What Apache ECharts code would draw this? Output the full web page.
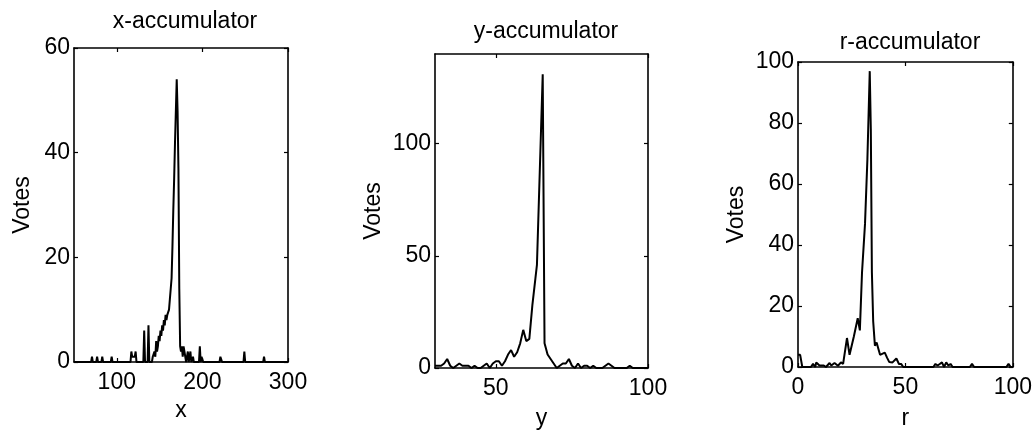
<!DOCTYPE html>
<html>
<head>
<meta charset="utf-8">
<script src="https://cdn.jsdelivr.net/npm/echarts@6/dist/echarts.min.js"></script>
<style>
html,body{margin:0;padding:0;background:#fff;}
#c{width:1035px;height:435px;}
</style>
</head>
<body>
<div id="c"></div>
<script>
// ---- data ----
const xAccX = [50,70,71,72,76,77,78,82,83,84,93,94,95,116,117,118,119,120,121,122,123,131,132,133,136,137,138,141,142,143,144,145,146,147,148,149,150,151,152,153,154,155,156,157,158,159,160,161,162,163,164,165,166,167,168,169,170,171,172,173,174,175,176,177,178,179,180,181,182,183,184,185,186,187,189,190,191,196,197,198,199,200,201,220,221,222,223,248,249,250,271,272,273,300];
const xAccV = [0,0,1,0,0,1,0,0,1,0,0,1,0,0,2,1,1,1,1,2,0,0,6,0,0,7,0,0,1,1,2,1,4,2,3,5,4,6,5,7,6,8,7,9,8,9,9,10,12,14,16,22,29,35,42,48,54,48,37,14,3,2,3,1,3,2,1,0,1,2,0,1,2,0,1,0,0,0,3,0,1,1,0,0,1,1,0,0,2,0,0,1,0,0];

const yAccX = [30,31,32,33,34,35,36,37,38,39,40,41,42,43,44,45,46,47,48,49,50,51,52,53,54,55,56,57,58,59,60,61,62,63,63.5,65.4,66,67,68,69,70,71,72,73,74,75,76,77,78,79,80,81,82,83,84,85,86,87,88,89,90,91,92,93,94,95,96,100];
const yAccV = [1,1,1,2,4,1,0,1,2,1,1,1,0,1,0,0,1,2,0,2,3,3,1,3,6,8,5,7,11,17,12,13,28,40,46,131,11,6,4,2,0,1,2,2,4,1,0,2,0,1,1,0,1,0,0,0,1,2,1,0,0,0,0,0,1,0,0,0];

const rAccX = [0,1,2,6,7,8,8.5,10,12,13,14.7,15.5,17,18.6,20,21,22.8,24,26,27.8,28.8,29.8,31.2,32.3,33.4,33.9,34.4,35,35.8,36.6,37.4,38.2,39,40.4,41.5,42.5,44,45.8,47,48,49,63,64,65,66,67,68,69,70,71,72,80,81,82,97,98,99,100];
const rAccV = [4,4,0,0,1,0,1.5,0.5,0.5,0,1.3,0.5,1.3,0.4,1.5,1,9.5,4,10,16,12,31,47,68,97,78,31,15,7,8,6,4,3.5,4.7,3,1.6,1.5,2.8,1,1,0,0,1,0.5,1,1.5,0,1.5,0.5,1,0,0,1,0,0,1,0,0];

const titles = ['x-accumulator','y-accumulator','r-accumulator'];
const xNames = ['x','y','r'];
const yName = 'Votes';
const xTicks = [[100,200,300],[50,100],[0,50,100]];
const yTicks = [[0,20,40,60],[0,50,100],[0,20,40,60,80,100]];
const xRange = [[50,300],[30,100],[0,100]];
const yRange = [[0,60],[0,140],[0,100]];

// ---- layout ----
const grids = [
  {left:74, top:48, width:214, height:314},
  {left:435, top:54, width:213, height:315},
  {left:798, top:62, width:215, height:314}
];
const titlePos = [[180,5],[541,15],[905,26]];
const FONT = 'Liberation Sans, Arial, Helvetica, sans-serif';
const FS = 23;

const seriesData = [
  xAccX.map((x,i)=>[x,xAccV[i]]),
  yAccX.map((x,i)=>[x,yAccV[i]]),
  rAccX.map((x,i)=>[x,rAccV[i]])
];

const xAxes = [], yAxes = [], series = [], title = [];
const axisLine = {show:true, onZero:false, lineStyle:{color:'#000', width:1.6}};
for (let k=0;k<3;k++){
  const tick = (vals)=>({show:true, inside:true, length:4, customValues:vals, lineStyle:{color:'#000',width:1.2}});
  xAxes.push({type:'value', gridIndex:k, position:'bottom', min:xRange[k][0], max:xRange[k][1],
    axisLine, splitLine:{show:false}, axisTick:tick(xTicks[k]),
    axisLabel:{customValues:xTicks[k], color:'#000', fontSize:FS, fontFamily:FONT, margin:9},
    name:xNames[k], nameLocation:'middle', nameGap:[36,39,40][k], nameTextStyle:{color:'#000', fontSize:FS, fontFamily:FONT}});
  xAxes.push({type:'value', gridIndex:k, position:'top', min:xRange[k][0], max:xRange[k][1],
    axisLine, splitLine:{show:false}, axisTick:tick(xTicks[k]), axisLabel:{show:false}});
  yAxes.push({type:'value', gridIndex:k, position:'left', min:yRange[k][0], max:yRange[k][1],
    axisLine, splitLine:{show:false}, axisTick:tick(yTicks[k]),
    axisLabel:{customValues:yTicks[k], color:'#000', fontSize:FS, fontFamily:FONT, margin:4},
    name:yName, nameLocation:'middle', nameGap:[40,50,50][k], nameTextStyle:{color:'#000', fontSize:FS, fontFamily:FONT}});
  yAxes.push({type:'value', gridIndex:k, position:'right', min:yRange[k][0], max:yRange[k][1],
    axisLine, splitLine:{show:false}, axisTick:tick(yTicks[k]), axisLabel:{show:false}});
  series.push({type:'line', xAxisIndex:2*k, yAxisIndex:2*k, data:seriesData[k], showSymbol:false,
    lineStyle:{color:'#000', width:2}, animation:false});
  title.push({text:titles[k], left:titlePos[k][0], top:titlePos[k][1], textAlign:'center',
    textStyle:{color:'#000', fontSize:FS, fontWeight:'normal', fontFamily:FONT}});
}

const chart = echarts.init(document.getElementById('c'), null, {renderer:'canvas'});
chart.setOption({
  backgroundColor:'#fff',
  animation:false,
  title,
  grid: grids,
  xAxis: xAxes,
  yAxis: yAxes,
  series
});
</script>
</body>
</html>
